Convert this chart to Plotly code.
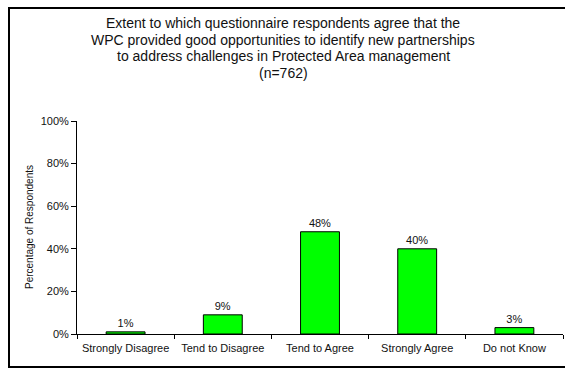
import plotly.graph_objects as go

# Survey responses (share of respondents)
categories = ["Strongly Disagree", "Tend to Disagree", "Tend to Agree", "Strongly Agree", "Do not Know"]
shares = [0.01, 0.09, 0.48, 0.40, 0.03]
value_labels = ["1%", "9%", "48%", "40%", "3%"]
y_ticks = [0, 0.2, 0.4, 0.6, 0.8, 1.0]
y_tick_labels = ["0%", "20%", "40%", "60%", "80%", "100%"]
title_lines = [
    "Extent to which questionnaire respondents agree that the",
    "WPC provided good opportunities to identify new partnerships",
    "to address challenges in Protected Area management",
    "(n=762)",
]
y_title = "Percentage of Respondents"

W, H = 565, 369
L, R, T, B = 77, 2, 121, 35
pw, ph = W - L - R, H - T - B

def px_x(x):
    return (x - L) / pw

def px_y(y):
    return (H - B - y) / ph

font = "Liberation Sans, Arial, sans-serif"
ink = "#111"

fig = go.Figure(go.Bar(
    x=categories,
    y=shares,
    width=0.4,
    marker=dict(color="#00FF00", line=dict(color="black", width=1)),
    text=value_labels,
    textposition="outside",
    textfont=dict(family=font, size=11, color=ink),
    cliponaxis=False,
))

# title lines placed individually to keep tight line spacing
annotations = [
    dict(
        xref="paper", yref="paper",
        x=px_x(283), y=px_y(23 + i * 16.7),
        xanchor="center", yanchor="middle",
        showarrow=False,
        text=line,
        font=dict(size=14, color=ink, family=font),
    )
    for i, line in enumerate(title_lines)
]
annotations.append(dict(
    xref="paper", yref="paper",
    x=px_x(29), y=px_y(227),
    xanchor="center", yanchor="middle",
    showarrow=False, textangle=-90,
    text=y_title,
    font=dict(size=10, color=ink, family=font),
))

# chart frame: left, top and bottom edges (right edge runs past the page)
frame = dict(color="black", width=2)
frame_lines = [
    dict(type="line", xref="paper", yref="paper",
         x0=px_x(9), x1=px_x(9), y0=px_y(367), y1=px_y(8), line=frame),
    dict(type="line", xref="paper", yref="paper",
         x0=px_x(8), x1=px_x(W + 5), y0=px_y(8), y1=px_y(8), line=frame),
    dict(type="line", xref="paper", yref="paper",
         x0=px_x(8), x1=px_x(W + 5), y0=px_y(367), y1=px_y(367), line=frame),
]

fig.update_layout(
    width=W, height=H,
    margin=dict(l=L, r=R, t=T, b=B),
    paper_bgcolor="white",
    plot_bgcolor="white",
    showlegend=False,
    font=dict(family=font, color=ink),
    xaxis=dict(
        type="category",
        showline=True, linecolor="black", linewidth=1,
        ticks="outside", tickson="boundaries", ticklen=4, tickcolor="black",
        tickfont=dict(size=11, color=ink),
        ticklabelstandoff=4,
        showgrid=False, zeroline=False,
    ),
    yaxis=dict(
        range=[0, 1],
        tickvals=y_ticks, ticktext=y_tick_labels,
        showline=True, linecolor="black", linewidth=1,
        ticks="outside", ticklen=5, tickcolor="black",
        tickfont=dict(size=11, color=ink),
        showgrid=False, zeroline=False,
    ),
    shapes=frame_lines,
    annotations=annotations,
)

fig.write_html("out.html")
